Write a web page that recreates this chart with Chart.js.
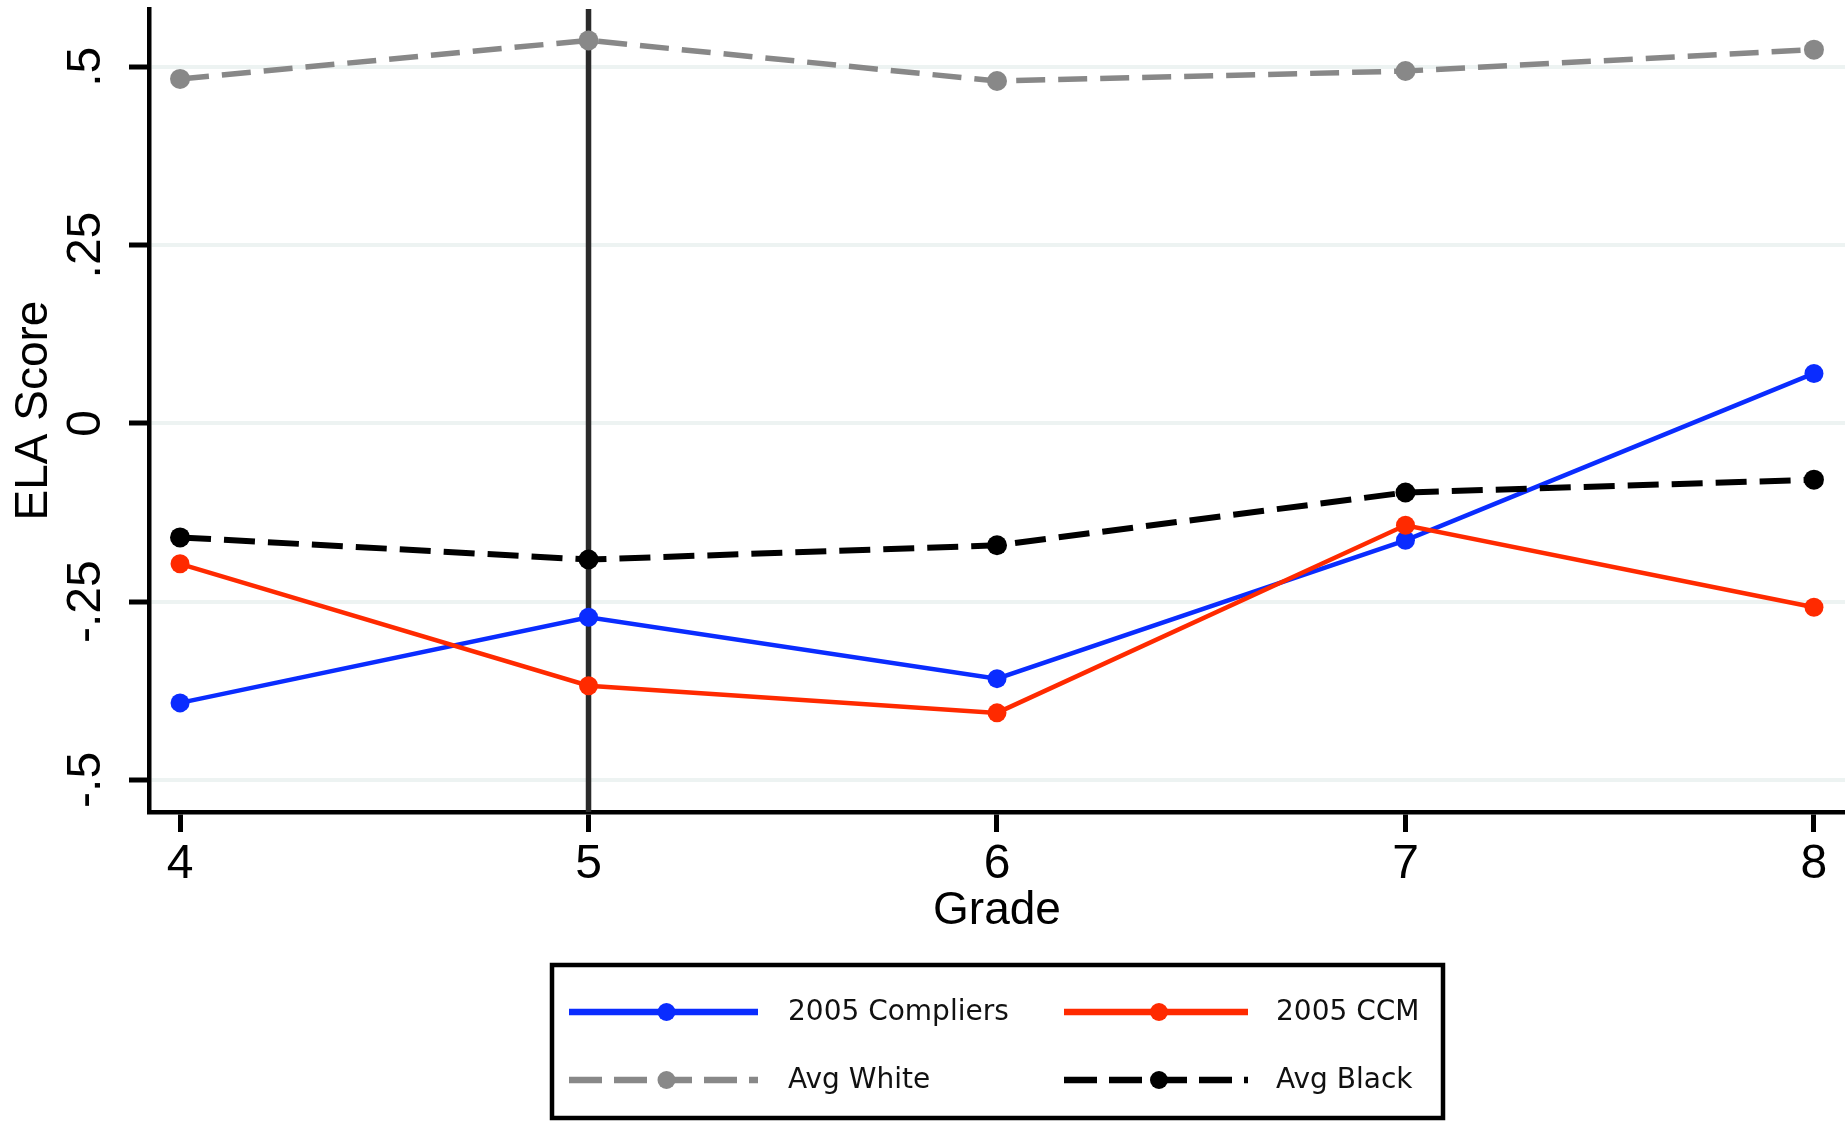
<!DOCTYPE html>
<html><head><meta charset="utf-8">
<script src="https://cdn.jsdelivr.net/npm/chart.js@4.4.1/dist/chart.umd.min.js"></script>
<style>html,body{margin:0;padding:0;background:#fff;overflow:hidden;} canvas{display:block;}</style>
</head><body><canvas id="c" width="1845" height="1121" style="width:1845px;height:1121px"></canvas>
<script>
const grades = [4, 5, 6, 7, 8];
const compliers2005 = [-0.392, -0.272, -0.358, -0.164, 0.070];
const ccm2005 = [-0.197, -0.368, -0.406, -0.143, -0.258];
const avgWhite = [0.483, 0.537, 0.480, 0.494, 0.524];
const avgBlack = [-0.160, -0.191, -0.171, -0.097, -0.079];
const seriesNames = ['2005 Compliers', '2005 CCM', 'Avg White', 'Avg Black'];
const yTickValues = [-0.5, -0.25, 0, 0.25, 0.5];
const yTickLabels = ['-.5', '-.25', '0', '.25', '.5'];
const xTickValues = [4, 5, 6, 7, 8];
const treatmentGrade = 5;

const toXY = arr => arr.map((v, i) => ({x: grades[i], y: v}));

const BLUE = '#0a2cff', RED = '#ff2a00', GRAY = '#888888', BLACK = '#000000';

const datasets = [
  {label: seriesNames[0], data: toXY(compliers2005), borderColor: BLUE, backgroundColor: BLUE, borderWidth: 4.5, pointRadius: 9.5, order: 3},
  {label: seriesNames[1], data: toXY(ccm2005), borderColor: RED, backgroundColor: RED, borderWidth: 4.5, pointRadius: 9.5, order: 2},
  {label: seriesNames[2], data: toXY(avgWhite), borderColor: GRAY, backgroundColor: GRAY, borderWidth: 5.5, borderDash: [29, 13], pointRadius: 10, order: 1},
  {label: seriesNames[3], data: toXY(avgBlack), borderColor: BLACK, backgroundColor: BLACK, borderWidth: 6, borderDash: [31, 13], pointRadius: 10, order: 0}
].map(d => Object.assign({pointBorderWidth: 0, pointStyle: 'circle', tension: 0, fill: false, clip: false}, d));

const vlinePlugin = {
  id: 'vline',
  beforeDatasetsDraw(chart) {
    const {ctx, chartArea, scales} = chart;
    const x = scales.x.getPixelForValue(treatmentGrade);
    ctx.save();
    ctx.strokeStyle = '#2a2a2a';
    ctx.lineWidth = 5.5;
    ctx.beginPath();
    ctx.moveTo(x, chartArea.top);
    ctx.lineTo(x, chartArea.bottom);
    ctx.stroke();
    ctx.restore();
  }
};

const legendPlugin = {
  id: 'customLegend',
  afterDraw(chart) {
    const ctx = chart.ctx;
    ctx.save();
    ctx.strokeStyle = '#000';
    ctx.lineWidth = 4.5;
    ctx.strokeRect(552, 965, 891, 153);
    const cols = [{x0: 569, x1: 758, tx: 788}, {x0: 1064, x1: 1248, tx: 1276}];
    const rows = [1012, 1080];
    chart.data.datasets.forEach((ds, i) => {
      const c = cols[i % 2], y = rows[Math.floor(i / 2)];
      ctx.strokeStyle = ds.borderColor;
      ctx.lineWidth = 6.5;
      ctx.setLineDash(ds.borderDash ? [33, 12] : []);
      ctx.beginPath(); ctx.moveTo(c.x0, y); ctx.lineTo(c.x1, y); ctx.stroke();
      ctx.setLineDash([]);
      ctx.fillStyle = ds.backgroundColor;
      ctx.beginPath(); ctx.arc((c.x0 + c.x1) / 2 + 3, y, 9, 0, Math.PI * 2); ctx.fill();
      ctx.fillStyle = '#111';
      ctx.font = '28px "DejaVu Sans"';
      ctx.textAlign = 'left';
      ctx.textBaseline = 'middle';
      ctx.fillText(ds.label, c.tx, y + 1);
    });
    ctx.restore();
  }
};

new Chart(document.getElementById('c'), {
  type: 'line',
  data: {datasets},
  plugins: [vlinePlugin, legendPlugin],
  options: {
    responsive: false,
    maintainAspectRatio: false,
    animation: false,
    devicePixelRatio: 1,
    layout: {autoPadding: false, padding: {top: 9, left: 0, right: 0, bottom: 182}},
    plugins: {legend: {display: false}, tooltip: {enabled: false}},
    scales: {
      x: {
        type: 'linear', min: 3.924, max: 8.076,
        afterBuildTicks: s => { s.ticks = xTickValues.map(v => ({value: v})); },
        afterFit: s => { s.height = 127; s.paddingLeft = 0; s.paddingRight = 0; },
        grid: {drawOnChartArea: false, drawTicks: true, tickLength: 20, tickWidth: 5, tickColor: '#000', color: '#000'},
        border: {display: true, color: '#000', width: 4.5},
        ticks: {font: {family: 'Liberation Sans', size: 48}, color: '#000', padding: 4, maxRotation: 0, minRotation: 0, callback: v => String(v)},
        title: {display: true, text: 'Grade', font: {family: 'Liberation Sans', size: 46}, color: '#000', padding: {top: 0, bottom: 0}}
      },
      y: {
        type: 'linear', min: -0.545, max: 0.581,
        afterBuildTicks: s => { s.ticks = yTickValues.map(v => ({value: v})); },
        afterFit: s => { s.width = 149; s.paddingTop = 0; s.paddingBottom = 0; },
        grid: {drawOnChartArea: true, color: '#edf3f2', lineWidth: 4, drawTicks: true, tickLength: 20, tickWidth: 5, tickColor: '#000'},
        border: {display: true, color: '#000', width: 4.5},
        ticks: {font: {family: 'Liberation Sans', size: 48}, color: '#000', padding: 1, minRotation: 90, maxRotation: 90, crossAlign: 'center',
          callback: v => { const i = yTickValues.indexOf(v); return i >= 0 ? yTickLabels[i] : ''; }},
        title: {display: true, text: 'ELA Score', font: {family: 'Liberation Sans', size: 46}, color: '#000', padding: {top: 7, bottom: 0}}
      }
    }
  }
});
</script></body></html>
